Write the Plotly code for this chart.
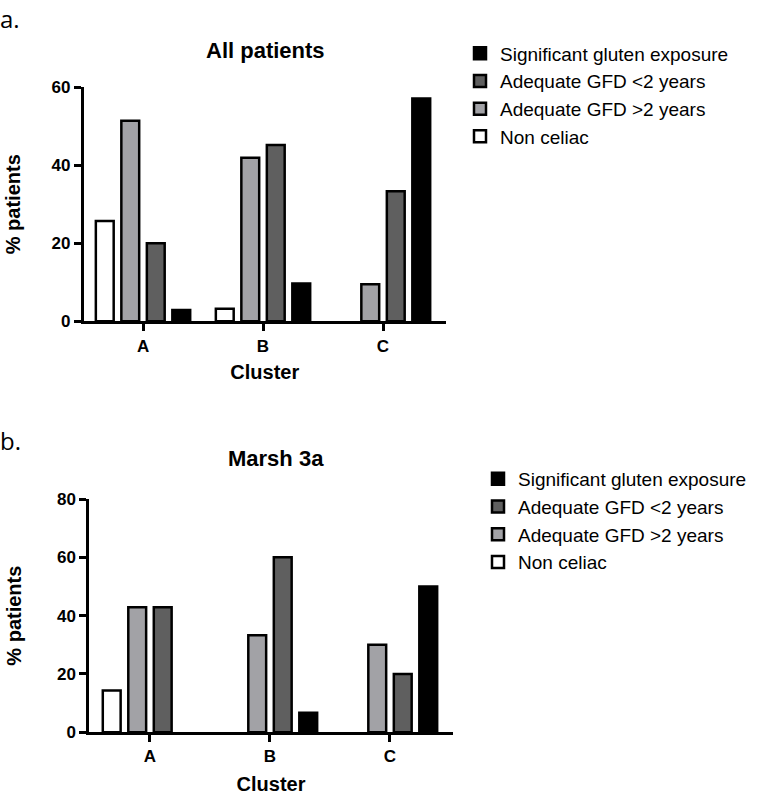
import plotly.graph_objects as go

clusters = ["A", "B", "C"]
series_names = ["Non celiac", "Adequate GFD >2 years", "Adequate GFD <2 years", "Significant gluten exposure"]
series_colors = ["#ffffff", "#a2a2a6", "#5f5f5f", "#000000"]

all_patients = {
    "Non celiac": [25.7, 3.2, 0],
    "Adequate GFD >2 years": [51.4, 41.9, 9.5],
    "Adequate GFD <2 years": [20.0, 45.2, 33.3],
    "Significant gluten exposure": [2.9, 9.7, 57.1],
}
marsh_3a = {
    "Non celiac": [14.3, 0, 0],
    "Adequate GFD >2 years": [42.9, 33.3, 30.0],
    "Adequate GFD <2 years": [42.9, 60.0, 20.0],
    "Significant gluten exposure": [0, 6.7, 50.0],
}

W, H = 759, 795
fig = go.Figure()


def hide_zero(vals):
    # zero-height bars are not drawn in the original
    return [v if v != 0 else None for v in vals]


for name, col in zip(series_names, series_colors):
    fig.add_trace(go.Bar(x=clusters, y=hide_zero(all_patients[name]), name=name,
                         marker=dict(color=col, line=dict(color="black", width=2.5)),
                         xaxis="x", yaxis="y", legend="legend", offsetgroup=name))
for name, col in zip(series_names, series_colors):
    fig.add_trace(go.Bar(x=clusters, y=hide_zero(marsh_3a[name]), name=name,
                         marker=dict(color=col, line=dict(color="black", width=2.5)),
                         xaxis="x2", yaxis="y2", legend="legend2", offsetgroup=name))

FAM = "Liberation Sans, Arial"
tickfont = dict(family=FAM, size=17, color="black", weight="bold")
titlefont = dict(family=FAM, size=20, color="black", weight="bold")
legfont = dict(family=FAM, size=19, color="black")


def ax_common():
    return dict(showline=True, linecolor="black", linewidth=2.5, ticks="outside", ticklen=7, tickwidth=2.5,
                tickcolor="black", tickfont=tickfont, showgrid=False, zeroline=False, fixedrange=True)


fig.update_layout(
    width=W, height=H, margin=dict(l=0, r=0, t=0, b=0),
    paper_bgcolor="white", plot_bgcolor="white",
    barmode="group", bargap=0.15, bargroupgap=0.3,
    xaxis=dict(**ax_common(), domain=[83.5 / W, 446 / W], range=[-0.496, 2.525], anchor="y",
               title=dict(text="Cluster", font=titlefont, standoff=11)),
    yaxis=dict(**ax_common(), domain=[1 - 320 / H, 1 - 80 / H], range=[0, 60], tickvals=[0, 20, 40, 60], anchor="x",
               title=dict(text="% patients", font=titlefont, standoff=26)),
    xaxis2=dict(**ax_common(), domain=[89 / W, 453 / W], range=[-0.508, 2.525], anchor="y2",
                title=dict(text="Cluster", font=titlefont, standoff=13)),
    yaxis2=dict(**ax_common(), domain=[1 - 741 / H, 1 - 502 / H], range=[0, 80], tickvals=[0, 20, 40, 60, 80],
                anchor="x2", title=dict(text="% patients", font=titlefont, standoff=30)),
    legend=dict(x=460 / W, y=1 - 26 / H, xanchor="left", yanchor="top", traceorder="reversed",
                font=legfont, bgcolor="rgba(0,0,0,0)", itemwidth=30),
    legend2=dict(x=478 / W, y=1 - 462 / H, xanchor="left", yanchor="top", traceorder="reversed",
                 font=legfont, bgcolor="rgba(0,0,0,0)", itemwidth=30),
    annotations=[
        dict(text="a.", x=-2 / W, y=1 - 10 / H, xref="paper", yref="paper", xanchor="left", yanchor="middle",
             showarrow=False, font=dict(family="Open Sans, Liberation Sans", size=24, color="black")),
        dict(text="b.", x=-2 / W, y=1 - 442 / H, xref="paper", yref="paper", xanchor="left", yanchor="middle",
             showarrow=False, font=dict(family="Open Sans, Liberation Sans", size=24, color="black")),
        dict(text="All patients", x=265 / W, y=1 - 43 / H, xref="paper", yref="paper", xanchor="center",
             yanchor="middle", showarrow=False, font=dict(family=FAM, size=22, color="black", weight="bold")),
        dict(text="Marsh 3a", x=276 / W, y=1 - 460 / H, xref="paper", yref="paper", xanchor="center",
             yanchor="middle", showarrow=False, font=dict(family=FAM, size=22, color="black", weight="bold")),
    ],
)

fig.write_html("out.html", post_script="document.body.style.margin='0';document.body.style.overflow='hidden';",
               config={"displayModeBar": False})
